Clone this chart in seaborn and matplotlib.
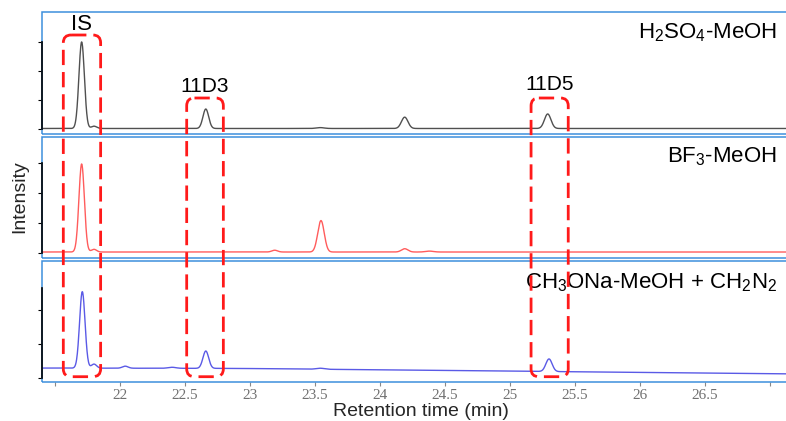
import matplotlib
matplotlib.use("Agg")
import matplotlib.pyplot as plt
from matplotlib.patches import FancyBboxPatch, Rectangle
import numpy as np
import seaborn as sns

# Peaks: retention time (min), height, width (sigma, min)
H2SO4_TIMES = [21.705, 21.80, 22.66, 23.54, 24.19, 25.29]
H2SO4_HEIGHTS = [2.98, 0.08, 0.67, 0.03, 0.39, 0.50]
H2SO4_WIDTHS = [0.021, 0.020, 0.022, 0.03, 0.025, 0.025]
H2SO4_BASE_T = [21.4, 27.12]
H2SO4_BASE_Y = [0.02, 0.02]

BF3_TIMES = [21.705, 21.80, 23.19, 23.546, 24.19, 24.38]
BF3_HEIGHTS = [2.94, 0.09, 0.06, 1.05, 0.11, 0.03]
BF3_WIDTHS = [0.021, 0.020, 0.022, 0.025, 0.025, 0.03]
BF3_BASE_T = [21.4, 27.12]
BF3_BASE_Y = [0.03, 0.03]

CH3ONA_TIMES = [21.71, 21.80, 22.04, 22.40, 22.66, 23.54, 25.30]
CH3ONA_HEIGHTS = [2.25, 0.12, 0.06, 0.03, 0.51, 0.03, 0.37]
CH3ONA_WIDTHS = [0.021, 0.020, 0.022, 0.03, 0.022, 0.03, 0.024]
CH3ONA_BASE_T = [21.4, 22.9, 25.0, 27.12]
CH3ONA_BASE_Y = [0.29, 0.28, 0.20, 0.12]

LABELS = [r"H$_\mathregular{2}$SO$_\mathregular{4}$-MeOH",
          r"BF$_\mathregular{3}$-MeOH",
          r"CH$_\mathregular{3}$ONa-MeOH + CH$_\mathregular{2}$N$_\mathregular{2}$"]
COLORS = ["#505050", "#ff5c5c", "#5a5ae6"]

# highlighted windows (min) and their labels
BOX_NAMES = ["IS", "11D3", "11D5"]
BOX_LEFT = [21.564, 22.513, 25.162]
BOX_RIGHT = [21.851, 22.795, 25.448]

XTICKS = [21.5, 22, 22.5, 23, 23.5, 24, 24.5, 25, 25.5, 26, 26.5, 27]
XTICK_LABELS = ["", "22", "22.5", "23", "23.5", "24", "24.5", "25", "25.5",
                "26", "26.5", ""]

FRAME_BLUE = "#3d8fdc"
W, H = 786, 421
PX_PER_MIN = 130.0
X22 = 120.0  # pixel column of 22 min
RIGHT_PX = 788  # frame runs off the right edge


def px_to_t(px):
    return 22 + (px - X22) / PX_PER_MIN


def trace(t, times, heights, widths, base_t, base_y):
    y = np.interp(t, base_t, base_y)
    for c, h, s in zip(times, heights, widths):
        y = y + h * np.exp(-0.5 * ((t - c) / s) ** 2)
    return y


sns.set_theme(style="white")
plt.rcParams["font.family"] = ["Liberation Sans", "DejaVu Sans"]
plt.rcParams["mathtext.fontset"] = "custom"
plt.rcParams["mathtext.rm"] = "Liberation Sans"

fig = plt.figure(figsize=(W / 100, H / 100), dpi=100)

xlim = (px_to_t(42), px_to_t(RIGHT_PX))
t = np.linspace(xlim[0], xlim[1], 3000)

# panel frames in pixel rows: (top, bottom), ylim, spine bounds, ticks
panels = [
    dict(top=12, bottom=134, ylim=(-0.17, 4.03), bounds=(0, 3), ticks=[0, 1, 2, 3],
         data=(H2SO4_TIMES, H2SO4_HEIGHTS, H2SO4_WIDTHS, H2SO4_BASE_T, H2SO4_BASE_Y), label_y=33),
    dict(top=137, bottom=258, ylim=(-0.17, 3.87), bounds=(0, 3), ticks=[0, 1, 2, 3],
         data=(BF3_TIMES, BF3_HEIGHTS, BF3_WIDTHS, BF3_BASE_T, BF3_BASE_Y), label_y=157),
    dict(top=261, bottom=382, ylim=(-0.12, 3.44), bounds=(0, 2.65), ticks=[0, 1, 2],
         data=(CH3ONA_TIMES, CH3ONA_HEIGHTS, CH3ONA_WIDTHS, CH3ONA_BASE_T, CH3ONA_BASE_Y), label_y=283),
]

for i, p in enumerate(panels):
    ax = fig.add_axes([42 / W, (H - p["bottom"]) / H, (RIGHT_PX - 42) / W,
                       (p["bottom"] - p["top"]) / H])
    y = trace(t, *p["data"])
    sns.lineplot(x=t, y=y, ax=ax, color=COLORS[i], lw=1.0)
    ax.set_xlim(xlim)
    ax.set_ylim(p["ylim"])
    for s in ["top", "right", "bottom"]:
        ax.spines[s].set_visible(False)
    ax.spines["left"].set_color("black")
    ax.spines["left"].set_linewidth(1.2)
    ax.spines["left"].set_bounds(*p["bounds"])
    ax.spines["left"].set_zorder(5)
    ax.add_patch(Rectangle((0, 0), 1, 1, transform=ax.transAxes, fill=False,
                           ec=FRAME_BLUE, lw=1.1, clip_on=False, zorder=4))
    ax.set_yticks(p["ticks"])
    ax.set_yticklabels([])
    ax.tick_params(axis="y", left=True, length=3, width=0.8, color="black", direction="out")
    ax.set_xticks(XTICKS)
    if i < 2:
        ax.tick_params(axis="x", bottom=False, labelbottom=False)
    else:
        ax.set_xticklabels(XTICK_LABELS, family="Liberation Serif", fontsize=11, color="#707070")
        ax.tick_params(axis="x", bottom=True, length=3, width=0.8, color="#888888",
                       direction="out", pad=2)
    ax.set_xlabel("")
    ax.set_ylabel("")
    fig.text(777 / W, (H - p["label_y"]) / H, LABELS[i], ha="right", va="center",
             fontsize=16, color="black")

# overlay for the red dashed windows spanning all panels
ov = fig.add_axes([0, 0, 1, 1], zorder=10)
ov.set_xlim(px_to_t(0), px_to_t(W))
ov.set_ylim(H, 0)
ov.axis("off")
ov.patch.set_alpha(0)
box_tops = [35, 98, 98]
label_rows = [24, 86, 85]
label_sizes = [16, 15, 15]
for name, x0, x1, top, ly, fs in zip(BOX_NAMES, BOX_LEFT, BOX_RIGHT, box_tops, label_rows, label_sizes):
    ov.add_patch(FancyBboxPatch((x0, top), x1 - x0, 376.7 - top,
                                boxstyle="round,pad=0,rounding_size=0.06",
                                mutation_aspect=PX_PER_MIN, fill=False, ec="#ff1a1a",
                                lw=2, linestyle=(0, (5.5, 2.5))))
    ov.text((x0 + x1) / 2, ly, name, ha="center", va="center", fontsize=fs, color="black")

fig.text(20 / W, (H - 197) / H, "Intensity", rotation=90, ha="center", va="center", fontsize=14)
fig.text(421 / W, (H - 412) / H, "Retention time (min)", ha="center", va="center", fontsize=14)

fig.savefig("out.png", dpi=100)
